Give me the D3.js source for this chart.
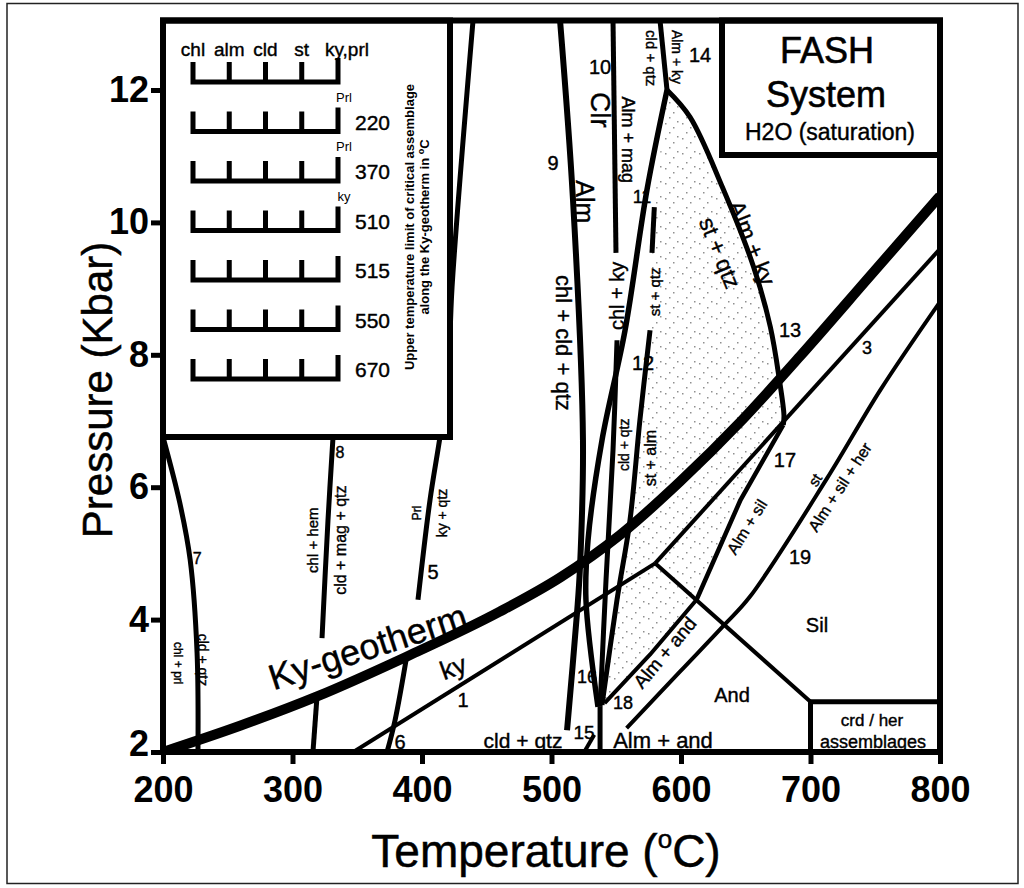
<!DOCTYPE html>
<html>
<head>
<meta charset="utf-8">
<style>
body { margin: 0; background: #fff; }
svg text { font-family: "Liberation Sans", Arial, sans-serif; fill: #000; }
</style>
</head>
<body>
<div id="chart"></div>
<script src="https://d3js.org/d3.v7.min.js"></script>
<script>
// axis ticks
var tempTicks = [200, 300, 400, 500, 600, 700, 800];
var pressTicks = [2, 4, 6, 8, 10, 12];

// reaction curves, each point is [T in C, P in kbar]
var kyGeotherm = [[200,2.0],[260,2.4],[319,2.84],[388,3.44],[460,4.12],[507,4.64],[553,5.28],[599,6.08],[646,6.99],[692,7.98],[746,9.19],[800,10.4]];
var line1 = [[347,2.0],[580,4.85]];
var line3 = [[580,4.85],[800,9.6]];
var andSil = [[580,4.85],[700,2.76]];
var line19 = [[558,2.36],[599,3.21],[632,3.89],[653,4.34],[713,6.14],[754,7.47],[800,8.8]];
var line13 = [[589.2,12.0],[607,11.59],[632,10.53],[656,9.33],[669,8.42],[676,7.62],[679.5,7.09],[679,6.94]];
var line17 = [[679,6.94],[646,5.81],[612,4.3]];
var line18 = [[612,4.3],[576,3.47],[541,2.74]];
var line9 = [[506.6,13.05],[516.6,10.34],[524.3,6.71],[522,4.79],[519.7,4.1],[512,2.33]];
var line10a = [[547.5,13.05],[549.8,9.54]];
var line10b = [[550.6,8.22],[547.5,6.56],[542.1,4.6],[537.5,2.68]];
var line14 = [[583.8,13.05],[589.2,12.0]];
var line11 = [[589.2,12.0],[573.7,10.49],[556.8,8.37],[539,6.71],[528.2,5.2],[526.6,4.3],[535.9,2.68]];
var line12a = [[579.4,10.23],[577.6,9.54]];
var line12b = [[576.1,8.37],[568.3,7.02],[560.6,5.5],[550.6,4.3],[539,2.71]];
var line15 = [[525.3,2.0],[533,2.26]];
var line15b = [[537.5,2.68],[537.5,2.0]];
var line7 = [[200,6.76],[213,5.76],[221,4.9],[226.3,3.5],[227,2.0]];
var line8 = [[331.3,6.76],[327.4,5.5],[322.8,3.72]];
var line8b = [[318.9,2.83],[315.8,2.0]];
var line6 = [[388.4,3.47],[379.2,2.48],[373,2.0]];
var line5 = [[439.4,13.05],[423.2,9.02],[420,7.62],[413.9,6.76],[406.2,5.81],[396.9,4.3]];
var crdCorner = [700, 2.76];

// field and reaction labels: [T, P, text, rotation]
var labels = [
  [358, 3.59, "Ky-geotherm", -18],
  [424, 3.28, "ky", -20],
  [431.7, 2.79, "1", 0],
  [383, 2.15, "6", 0],
  [408.5, 4.72, "5", 0],
  [226.5, 4.93, "7", 0],
  [336.7, 6.52, "8", 0],
  [396.1, 5.61, "Prl", -90],
  [415.4, 5.61, "ky + qtz", -90],
  [315.8, 5.20, "chl + hem", -90],
  [336.7, 5.20, "cld + mag + qtz", -90],
  [211.6, 3.34, "chl + prl", 90],
  [230.9, 3.39, "cld + qtz", 90],
  [501.2, 10.90, "9", 0],
  [537.5, 12.35, "10", 0],
  [537.5, 11.70, "Clr", 90],
  [525.9, 10.31, "Alm", 90],
  [508.9, 8.18, "chl + cld + qtz", 90],
  [559.1, 11.25, "Alm + mag", 90],
  [550.6, 8.89, "chl + ky", -90],
  [569.9, 10.38, "11", 0],
  [579.9, 8.95, "st + qtz", -90],
  [570.7, 7.88, "12", 0],
  [556.0, 6.64, "cld + qtz", -90],
  [576.1, 6.44, "st + alm", -90],
  [577.6, 12.48, "cld + qtz", 90],
  [596.9, 12.50, "Alm + ky", 90],
  [614.7, 12.53, "14", 0],
  [654.8, 9.69, "Alm + ky", 68],
  [630.1, 9.54, "st + qtz", 68],
  [684.2, 8.37, "13", 0],
  [680.3, 6.41, "17", 0],
  [743.6, 8.10, "3", 0],
  [691.9, 4.95, "19", 0],
  [651.0, 5.40, "Alm + sil", -58],
  [703.5, 6.11, "st", -58],
  [722.8, 6.00, "Alm + sil + her", -57],
  [587.6, 3.50, "Alm + and", -50],
  [639.4, 2.86, "And", 0],
  [705.0, 3.92, "Sil", 0],
  [747.5, 2.48, "crd / her", 0],
  [748.3, 2.15, "assemblages", 0],
  [478.0, 2.18, "cld + qtz", 0],
  [525.1, 2.30, "15", 0],
  [527.4, 3.13, "16", 0],
  [555.2, 2.74, "18", 0],
  [586.1, 2.18, "Alm + and", 0]
];
var labelSizes = [36,26,20,20,20,16,16,12,14,15,16,12,14,20,20,28,25,22,18,20,18,15,20,14,16,15,14,20,23,23,20,20,18,20,16,15,16,19,20,20,17,18,21,19,18,18,22];

// inset: upper temperature limit of critical assemblage along the Ky-geotherm
var minerals = ["chl", "alm", "cld", "st", "ky,prl"];
var rowTemps = ["", "220", "370", "510", "515", "550", "670"];
var rowTags = ["", "Prl", "Prl", "ky", "", "", ""];

var width = 1024, height = 888;
var svg = d3.select("#chart").append("svg")
  .attr("width", width).attr("height", height);

var x = d3.scaleLinear().domain([200, 800]).range([163, 940]);
var y = d3.scaleLinear().domain([2, 13.05]).range([752, 20.5]);

// outer thin border
svg.append("rect").attr("x", 7).attr("y", 3.5).attr("width", 1011).attr("height", 880)
  .attr("fill", "none").attr("stroke", "#222").attr("stroke-width", 1.5);

var defs = svg.append("defs");
defs.append("clipPath").attr("id", "plot")
  .append("rect").attr("x", x(200)).attr("y", y(13.05))
  .attr("width", x(800) - x(200)).attr("height", y(2) - y(13.05));
var pat = defs.append("pattern").attr("id", "stip")
  .attr("width", 17).attr("height", 15).attr("patternUnits", "userSpaceOnUse");
[[2,3],[10,7],[6,12],[14,1]].forEach(function(d) {
  pat.append("rect").attr("x", d[0]).attr("y", d[1]).attr("width", 1.5).attr("height", 1.5).attr("fill", "#333");
});

var plot = svg.append("g").attr("clip-path", "url(#plot)");

var straight = d3.line().x(function(d) { return x(d[0]); }).y(function(d) { return y(d[1]); });
var curved = d3.line().x(function(d) { return x(d[0]); }).y(function(d) { return y(d[1]); })
  .curve(d3.curveCatmullRom.alpha(0.5));
var smooth = d3.line().x(function(d) { return x(d[0]); }).y(function(d) { return y(d[1]); })
  .curve(d3.curveMonotoneX);

// stippled field
var stipple = line13.concat(line17.slice(1), line18.slice(1), line12b.slice().reverse(), line12a.slice().reverse());
plot.append("path").attr("d", straight(stipple) + "Z").attr("fill", "url(#stip)").attr("opacity", 0.55);

var curves = [
  [kyGeotherm, 10, smooth],
  [line1, 4, straight], [line3, 4, straight], [andSil, 4, straight], [line19, 4, curved],
  [line13, 5, curved], [line17, 4.5, straight], [line18, 4, straight],
  [line9, 6, curved], [line10a, 5, straight], [line10b, 5, curved],
  [line14, 5, straight], [line11, 5.5, curved], [line12a, 5, straight], [line12b, 5, curved],
  [line15, 4, straight], [line15b, 5, straight],
  [line7, 5, curved], [line8, 5, curved], [line8b, 5, straight], [line6, 5, curved], [line5, 5, curved]
];
plot.selectAll("path.curve").data(curves).enter().append("path")
  .attr("class", "curve")
  .attr("d", function(d) { return d[2](d[0]); })
  .attr("fill", "none").attr("stroke", "#000")
  .attr("stroke-width", function(d) { return d[1]; })
  .attr("stroke-linejoin", "round");

// crd / her box corner
plot.append("path")
  .attr("d", "M" + x(crdCorner[0]) + "," + y(2) + "V" + y(crdCorner[1]) + "H" + x(800))
  .attr("fill", "none").attr("stroke", "#000").attr("stroke-width", 5);

// inset box
var inset = svg.append("g");
inset.append("rect").attr("x", x(200)).attr("y", y(13.05)).attr("width", 287).attr("height", 437 - y(13.05))
  .attr("fill", "#fff").attr("stroke", "#000").attr("stroke-width", 6);
var rowY = d3.scalePoint().domain(d3.range(rowTemps.length)).range([82, 379]);
var toothX = d3.scalePoint().domain(minerals).range([193, 338]);
inset.selectAll("text.min").data(minerals).enter().append("text")
  .attr("x", function(d, i) { return toothX(d) + (i === 4 ? 9 : 0); })
  .attr("y", 56).attr("text-anchor", "middle").attr("font-size", 19)
  .attr("stroke", "#000").attr("stroke-width", 0.4).text(function(d) { return d; });
rowTemps.forEach(function(t, i) {
  var b = rowY(i), x0 = toothX("chl"), x1 = toothX("ky,prl");
  var d = "M" + x0 + "," + (b - 20) + "V" + b + "H" + x1 + "V" + (b - 24);
  minerals.slice(1, 4).forEach(function(m) { d += "M" + toothX(m) + "," + b + "V" + (b - 20); });
  inset.append("path").attr("d", d).attr("fill", "none").attr("stroke", "#000").attr("stroke-width", 5);
  if (t) inset.append("text").attr("x", 355).attr("y", b - 2).attr("font-size", 21)
    .attr("stroke", "#000").attr("stroke-width", 0.4).text(t);
  if (rowTags[i]) inset.append("text").attr("x", x1 + 6).attr("y", b - 30)
    .attr("text-anchor", "middle").attr("font-size", 13).text(rowTags[i]);
});
var cap = inset.append("text").attr("transform", "translate(414,227) rotate(-90)")
  .attr("text-anchor", "middle").attr("font-size", 13).attr("font-weight", "bold");
cap.append("tspan").attr("x", 0).attr("dy", 0).text("Upper temperature limit of critical assemblage");
var cap2 = cap.append("tspan").attr("x", 0).attr("dy", 15).text("along the Ky-geotherm in ");
cap2.append("tspan").attr("dy", -5).attr("font-size", 9).text("o");
cap.append("tspan").attr("dy", 5).text("C");

// FASH box
var fash = svg.append("g");
fash.append("rect").attr("x", 722).attr("y", y(13.05)).attr("width", x(800) - 722).attr("height", 155 - y(13.05))
  .attr("fill", "#fff").attr("stroke", "#000").attr("stroke-width", 6);
fash.append("text").attr("x", 827).attr("y", 63).attr("text-anchor", "middle").attr("font-size", 36)
  .attr("stroke", "#000").attr("stroke-width", 0.6).text("FASH");
fash.append("text").attr("x", 826).attr("y", 107).attr("text-anchor", "middle").attr("font-size", 36)
  .attr("stroke", "#000").attr("stroke-width", 0.6).text("System");
fash.append("text").attr("x", 830).attr("y", 140).attr("text-anchor", "middle").attr("font-size", 23)
  .attr("stroke", "#000").attr("stroke-width", 0.4).text("H2O (saturation)");

// labels
svg.append("g").selectAll("text").data(labels).enter().append("text")
  .attr("transform", function(d) { return "translate(" + x(d[0]) + "," + y(d[1]) + ") rotate(" + d[3] + ")"; })
  .attr("text-anchor", "middle").attr("dominant-baseline", "central")
  .attr("font-size", function(d, i) { return labelSizes[i]; })
  .attr("stroke", "#000").attr("stroke-width", 0.4)
  .text(function(d) { return d[2]; });

// plot frame
svg.append("rect").attr("x", x(200)).attr("y", y(13.05))
  .attr("width", x(800) - x(200)).attr("height", y(2) - y(13.05))
  .attr("fill", "none").attr("stroke", "#000").attr("stroke-width", 6);

// axes
var gx = svg.append("g").attr("transform", "translate(0," + y(2) + ")")
  .call(d3.axisBottom(x).tickValues(tempTicks).tickSize(12).tickPadding(12));
var gy = svg.append("g").attr("transform", "translate(" + x(200) + ",0)")
  .call(d3.axisLeft(y).tickValues(pressTicks).tickSize(12).tickPadding(2));
[gx, gy].forEach(function(g) {
  g.select(".domain").remove();
  g.selectAll(".tick line").attr("stroke", "#000").attr("stroke-width", 5);
  g.selectAll(".tick text").attr("font-size", 36).attr("font-weight", "bold")
    .attr("font-family", "'Liberation Sans', Arial, sans-serif").attr("fill", "#000");
});
gy.selectAll(".tick text").filter(function(d) { return d === 2; }).attr("dy", "0.1em");

// axis titles
var xt = svg.append("text").attr("x", 546).attr("y", 867).attr("text-anchor", "middle").attr("font-size", 46)
  .attr("stroke", "#000").attr("stroke-width", 0.5);
xt.append("tspan").text("Temperature (");
xt.append("tspan").attr("dy", -19).attr("font-size", 26).text("o");
xt.append("tspan").attr("dy", 19).text("C)");
svg.append("text").attr("transform", "translate(112,390) rotate(-90)")
  .attr("text-anchor", "middle").attr("font-size", 42)
  .attr("stroke", "#000").attr("stroke-width", 0.5).text("Pressure (Kbar)");
</script>
</body>
</html>
